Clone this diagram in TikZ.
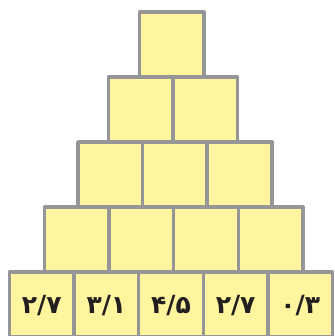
\documentclass[tikz,border=0pt]{standalone}
\usepackage{fontspec}
\newfontfamily\farsifont[Script=Arabic]{DejaVu Sans}

\definecolor{boxyellow}{RGB}{255,245,158}
\definecolor{boxgray}{RGB}{150,150,152}
\definecolor{digitink}{RGB}{35,31,32}

\begin{document}
\begin{tikzpicture}[
        x=1pt, y=-1pt,
        cell/.style={draw=boxgray, fill=boxyellow, line width=3.5pt, line join=round,
            minimum width=64.6pt, minimum height=65pt, inner sep=0pt, outer sep=0pt},
        digits/.style={text=digitink, font=\farsifont\bfseries\fontsize{25}{25}\selectfont}
    ]
    \useasboundingbox (0,0) rectangle (334,336);
    \clip (0,0) rectangle (334,336);

    \def\cw{64.6}
    \def\ch{65}

% ---------- pyramid of boxes, top row first ----------
    \foreach \r/\xl in {1/139.5, 2/108.5, 3/78, 4/44.5, 5/9.5}{
        \foreach \c in {1,...,\r}{
            \node[cell] (b\r\c) at ({\xl+(\c-0.5)*\cw}, {12+(\r-0.5)*\ch}) {};
        }
    }

% ---------- numbers in the bottom row ----------
    \node[digits] (t1) at ([yshift=-1pt]b51) {۲/۷};
    \node[digits] (t2) at ([yshift=-1pt]b52) {۳/۱};
    \node[digits] (t3) at ([yshift=-1pt]b53) {۴/۵};
    \node[digits] (t4) at ([yshift=-1pt]b54) {۲/۷};
    \node[digits] (t5) at ([yshift=-1pt]b55) {۰/۳};

\end{tikzpicture}
\end{document}
